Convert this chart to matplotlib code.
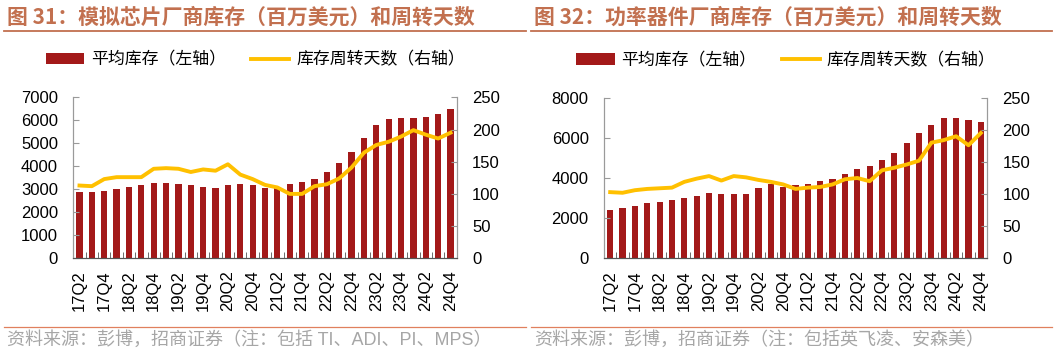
import matplotlib

matplotlib.use("Agg")
import matplotlib.pyplot as plt
import numpy as np
from matplotlib.lines import Line2D

plt.rcParams["font.family"] = ["Liberation Sans", "Noto Sans CJK SC"]

quarters = [
    "17Q2", "17Q3", "17Q4", "18Q1", "18Q2", "18Q3", "18Q4", "19Q1",
    "19Q2", "19Q3", "19Q4", "20Q1", "20Q2", "20Q3", "20Q4", "21Q1",
    "21Q2", "21Q3", "21Q4", "22Q1", "22Q2", "22Q3", "22Q4", "23Q1",
    "23Q2", "23Q3", "23Q4", "24Q1", "24Q2", "24Q3", "24Q4",
]

# 模拟芯片 (TI, ADI, PI, MPS)
analog_stock = [
    2880, 2870, 2930, 3010, 3120, 3170, 3260, 3290, 3250, 3170, 3090,
    3040, 3170, 3250, 3170, 3070, 3050, 3220, 3320, 3440, 3740, 4130,
    4620, 5230, 5800, 6070, 6120, 6120, 6150, 6260, 6480,
]
analog_days = [
    113, 112, 123, 126, 126, 126, 139, 140, 139, 134, 138,
    136, 146, 130, 123, 114, 110, 100, 100, 112, 115, 124,
    141, 164, 176, 181, 189, 199, 192, 186, 195,
]

# 功率器件 (英飞凌, 安森美)
power_stock = [
    2390, 2490, 2590, 2740, 2820, 2890, 3020, 3120, 3240, 3200, 3190,
    3220, 3490, 3700, 3570, 3650, 3690, 3830, 3970, 4200, 4470, 4620,
    4880, 5250, 5750, 6230, 6650, 6970, 7000, 6900, 6780,
]
power_days = [
    103, 102, 106, 108, 109, 110, 119, 124, 128, 121, 128,
    126, 122, 119, 115, 108, 110, 111, 115, 123, 125, 120,
    137, 141, 146, 152, 180, 184, 190, 176, 195,
]

BAR_COLOR = "#A31919"
LINE_COLOR = "#FFC000"
TITLE_COLOR = "#C2704F"
FOOT_COLOR = "#A6A6A6"
SPINE_GREY = "#9A9A9A"
CJK = ["Noto Sans CJK SC", "Liberation Sans"]
W, H = 1054, 355


def draw_panel(ax, stock, days, stock_max, stock_step):
    x = np.arange(len(quarters))
    bars = ax.bar(x, stock, width=0.5, color=BAR_COLOR, label="平均库存（左轴）")
    ax2 = ax.twinx()
    (line,) = ax2.plot(
        x, days, color=LINE_COLOR, lw=2.8, solid_joinstyle="round",
        label="库存周转天数（右轴）",
    )

    ax.set_xlim(-0.5, len(quarters) - 0.5)
    ax.set_ylim(0, stock_max)
    ax.set_yticks(np.arange(0, stock_max + 1, stock_step))
    ax2.set_ylim(0, 250)
    ax2.set_yticks(np.arange(0, 251, 50))

    ax.set_xticks(x[::2])
    ax.set_xticklabels(quarters[::2], rotation=90)
    ax.set_xticks(np.arange(-0.5, len(quarters)), minor=True)
    ax.tick_params(axis="x", which="major", length=0, pad=8.5, labelsize=12)
    ax.tick_params(axis="x", which="minor", direction="in", length=4, color="#555555")
    ax.tick_params(axis="y", direction="in", length=4, color=SPINE_GREY, pad=11, labelsize=12)
    ax2.tick_params(axis="y", direction="in", length=4, color=SPINE_GREY, pad=11, labelsize=12)

    for a in (ax, ax2):
        a.spines["top"].set_visible(False)
        a.spines["left"].set_color(SPINE_GREY)
        a.spines["right"].set_color(SPINE_GREY)
        a.spines["bottom"].set_color("#555555")
    ax.set_zorder(1)
    ax2.set_zorder(2)

    ax2.legend(
        [bars, line], [bars.get_label(), line.get_label()],
        loc="center", bbox_to_anchor=(0.475, 1.235), ncol=2, frameon=False,
        prop={"family": CJK, "size": 12.2}, handlelength=2.25,
        handletextpad=0.4, columnspacing=1.5, borderaxespad=0,
    )


def header_footer(fig, x0, x1, title, note):
    fig.text(
        (x0 + 7) / W, 1 - 17 / H, title, fontsize=15, fontweight="bold",
        color=TITLE_COLOR, va="center", ha="left", family=CJK,
    )
    fig.add_artist(Line2D([(x0 + 4) / W, x1 / W], [1 - 31 / H] * 2, color=TITLE_COLOR, lw=1.3))
    fig.add_artist(Line2D([(x0 + 4) / W, x1 / W], [1 - 327 / H] * 2, color="#E0805E", lw=0.9))
    fig.text(
        (x0 + 7) / W, 1 - 340 / H, note, fontsize=13, color=FOOT_COLOR,
        va="center", ha="left", family=["Liberation Sans", "Noto Sans CJK SC"],
    )


fig = plt.figure(figsize=(W / 100, H / 100), dpi=100)

ax_left = fig.add_axes([73.3 / W, 1 - 258.3 / H, 383.4 / W, 161 / H])
draw_panel(ax_left, analog_stock, analog_days, 7000, 1000)

ax_right = fig.add_axes([604 / W, 1 - 258.3 / H, 383 / W, 160.6 / H])
draw_panel(ax_right, power_stock, power_days, 8000, 2000)

header_footer(
    fig, 0, 526, "图 31：模拟芯片厂商库存（百万美元）和周转天数",
    "资料来源：彭博，招商证券（注：包括 TI、ADI、PI、MPS）",
)
header_footer(
    fig, 527, 1052, "图 32：功率器件厂商库存（百万美元）和周转天数",
    "资料来源：彭博，招商证券（注：包括英飞凌、安森美）",
)

fig.savefig("out.png", dpi=100)
plt.close(fig)
